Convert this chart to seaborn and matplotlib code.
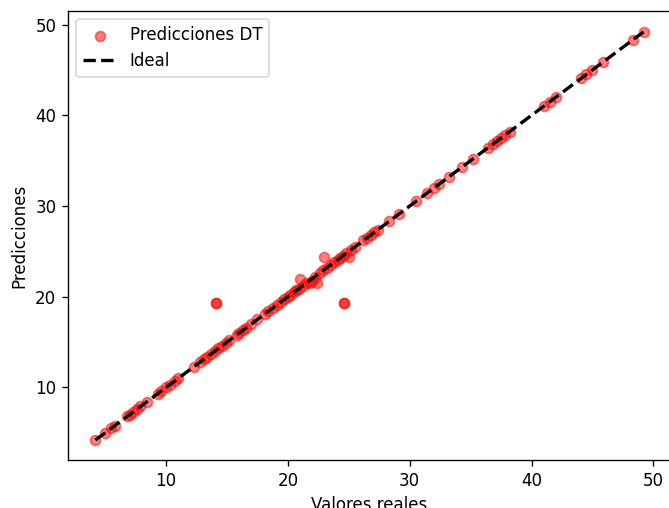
import matplotlib
matplotlib.use("Agg")
import matplotlib.pyplot as plt
import seaborn as sns
import numpy as np

valores_reales = [
    4.2, 5.0, 5.5, 5.8, 6.8, 7.0, 7.3, 7.6, 7.9, 8.4,
    9.3, 9.6, 10.0, 10.3, 10.7, 11.0, 12.3, 12.8, 13.1, 13.4,
    13.7, 14.0, 14.1, 14.1, 14.3, 14.6, 14.9, 15.2, 15.8, 16.0, 16.3,
    16.6, 17.0, 17.5, 18.1, 18.4, 18.8, 19.1, 19.4, 19.7, 20.0,
    20.2, 20.5, 20.7, 20.9, 21.0, 21.2, 21.5, 21.8, 22.0, 22.2,
    22.4, 22.6, 22.9, 23.0, 23.2, 23.5, 23.8, 24.1, 24.3, 24.5,
    24.6, 24.6, 24.8, 25.0, 25.2, 25.5, 26.2, 26.5, 26.8, 27.1, 27.4,
    28.3, 29.1, 30.5, 31.4, 32.0, 32.4, 33.2, 34.3, 35.2, 36.4,
    36.8, 37.2, 37.5, 37.8, 38.2, 41.0, 41.5, 42.0, 44.1, 44.5,
    45.0, 45.9, 48.3, 49.2,
]
predicciones = [
    4.2, 5.0, 5.5, 5.8, 6.8, 7.0, 7.3, 7.6, 7.9, 8.4,
    9.3, 9.6, 10.0, 10.3, 10.7, 11.0, 12.3, 12.8, 13.1, 13.4,
    13.7, 14.0, 19.3, 19.3, 14.3, 14.6, 14.9, 15.2, 15.8, 16.0, 16.3,
    16.6, 17.0, 17.5, 18.1, 18.4, 18.8, 19.1, 19.4, 19.7, 20.0,
    20.2, 20.5, 20.7, 20.9, 21.9, 21.2, 21.5, 21.5, 21.7, 22.2,
    21.5, 22.6, 22.9, 24.4, 23.2, 23.5, 23.8, 24.1, 24.3, 24.5,
    19.3, 19.3, 24.8, 24.4, 25.2, 25.5, 26.2, 26.5, 26.8, 27.1, 27.4,
    28.3, 29.1, 30.5, 31.4, 32.0, 32.4, 33.2, 34.3, 35.2, 36.4,
    36.8, 37.2, 37.5, 37.8, 38.2, 41.0, 41.5, 42.0, 44.1, 44.5,
    45.0, 45.9, 48.3, 49.2,
]
linea_ideal = [min(valores_reales), max(valores_reales)]

DPI = 120
fig = plt.figure(figsize=(669 / DPI, 508 / DPI), dpi=DPI)
ax = fig.add_axes([68 / 669, 48 / 508, 603 / 669, 449 / 508])

sns.scatterplot(x=valores_reales, y=predicciones, color="red", alpha=0.5,
                s=36, linewidth=1, edgecolor="red", label="Predicciones DT", ax=ax)
ax.plot(linea_ideal, linea_ideal, "k--", linewidth=2, label="Ideal")

ax.set_xlim(1.95, 51.45)
ax.set_ylim(2.0, 51.5)
ax.set_xticks([10, 20, 30, 40, 50])
ax.set_yticks([10, 20, 30, 40, 50])
ax.set_xlabel("Valores reales")
ax.set_ylabel("Predicciones")
ax.legend(loc="upper left")

fig.savefig("out.png", dpi=DPI)
